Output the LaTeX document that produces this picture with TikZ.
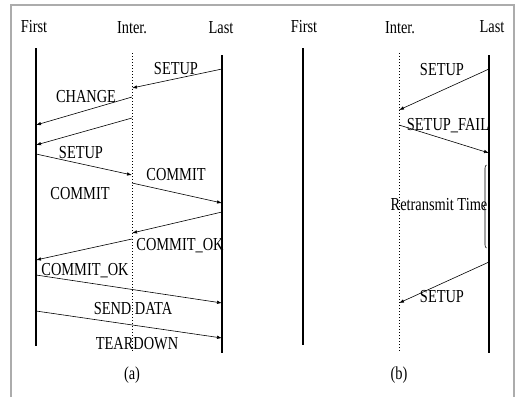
\documentclass[tikz,border=0pt]{standalone}
\usepackage{fontspec}
\setmainfont{Liberation Serif}
\usetikzlibrary{arrows.meta,decorations.pathreplacing}
% tall, tightly set lettering
\newcommand{\tx}[1]{\scalebox{0.96}[1.22]{#1}}
\begin{document}
\begin{tikzpicture}[x=1pt,y=-1pt,
  every node/.style={inner sep=0pt,font=\fontsize{15}{15}\selectfont},
  lifeline/.style={line width=2pt},
  thinlife/.style={line width=1.3pt},
  interline/.style={line width=1pt,dotted},
  msg/.style={line width=0.6pt,-{Latex[length=5pt,width=3.5pt]}},
  frameline/.style={draw=gray!65,line width=1.2pt}]
\useasboundingbox (0,0) rectangle (517,397);
\draw[frameline] (11,397) -- (11,5) -- (514,5) -- (514,397);

% ---------- panel (a) ----------
\node (aF) at (34,27) {\tx{First}};
\node (aI) at (132,28) {\tx{Inter.}};
\node (aL) at (221,28) {\tx{Last}};
\coordinate (aFt) at (36,48);  \coordinate (aFb) at (36,346);
\coordinate (aIt) at (132,53); \coordinate (aIb) at (132,352);
\coordinate (aLt) at (222,55); \coordinate (aLb) at (222,353);
\draw[lifeline] (aFt) -- (aFb);
\draw[interline] (aIt) -- (aIb);
\draw[lifeline,line width=2.3pt] (aLt) -- (aLb);

\coordinate (a1s) at (222,69);  \coordinate (a1e) at (132,88);
\coordinate (a2s) at (132,97);  \coordinate (a2e) at (36,125);
\coordinate (a3s) at (132,118); \coordinate (a3e) at (36,145);
\coordinate (a4s) at (36,154);  \coordinate (a4e) at (132,175);
\coordinate (a5s) at (132,183); \coordinate (a5e) at (222,203);
\coordinate (a6s) at (222,212); \coordinate (a6e) at (132,233);
\coordinate (a7s) at (132,239); \coordinate (a7e) at (36,260);
\coordinate (a8s) at (36,275);  \coordinate (a8e) at (222,303);
\coordinate (a9s) at (36,311);  \coordinate (a9e) at (222,338);
\draw[msg] (a1s) -- (a1e);
\draw[msg] (a2s) -- (a2e);
\draw[msg] (a3s) -- (a3e);
\draw[msg] (a4s) -- (a4e);
\draw[msg] (a5s) -- (a5e);
\draw[msg] (a6s) -- (a6e);
\draw[msg] (a7s) -- (a7e);
\draw[msg] (a8s) -- (a8e);
\draw[msg] (a9s) -- (a9e);

\node (ta1) at (176,69) {\tx{SETUP}};
\node (ta2) at (86,97) {\tx{CHANGE}};
\node (ta3) at (81,153) {\tx{SETUP}};
\node (ta4) at (176,175) {\tx{COMMIT}};
\node (ta5) at (80,194) {\tx{COMMIT}};
\node (ta6) at (180,246) {\tx{COMMIT\_OK}};
\node (ta7) at (85,271) {\tx{COMMIT\_OK}};
\node (ta8) at (133,309) {\tx{SEND DATA}};
\node (ta9) at (137,344) {\tx{TEARDOWN}};
\node (capa) at (132,375) {\tx{(a)}};

% ---------- panel (b) ----------
\node (bF) at (304,27) {\tx{First}};
\node (bI) at (400,28) {\tx{Inter.}};
\node (bL) at (492,27) {\tx{Last}};
\coordinate (bFt) at (303,48);  \coordinate (bFb) at (303,345);
\coordinate (bIt) at (399,53);  \coordinate (bIb) at (399,352);
\coordinate (bLt) at (489,55);  \coordinate (bLb) at (489,353);
\draw[thinlife] (bFt) -- (bFb);
\draw[interline] (bIt) -- (bIb);
\draw[lifeline,line width=2.5pt] (bLt) -- (bLb);

\coordinate (b1s) at (489,69);  \coordinate (b1e) at (399,110);
\coordinate (b2s) at (399,125); \coordinate (b2e) at (489,153);
\coordinate (b3s) at (489,262); \coordinate (b3e) at (399,303);
\draw[msg] (b1s) -- (b1e);
\draw[msg] (b2s) -- (b2e);
\draw[msg] (b3s) -- (b3e);

% retransmission timer interval
\coordinate (brb) at (486.5,248); \coordinate (brt) at (486.5,165);
\draw[line width=0.6pt,decorate,decoration={brace,amplitude=3pt}] (brb) -- (brt);

\node (tb1) at (442,70) {\tx{SETUP}};
\node (tb2) at (448,126) {\tx{SETUP\_FAIL}};
\node (tb3) at (439,205) {\tx{Retransmit Time}};
\node (tb4) at (442,297) {\tx{SETUP}};
\node (capb) at (399,375) {\tx{(b)}};
\end{tikzpicture}
\end{document}
